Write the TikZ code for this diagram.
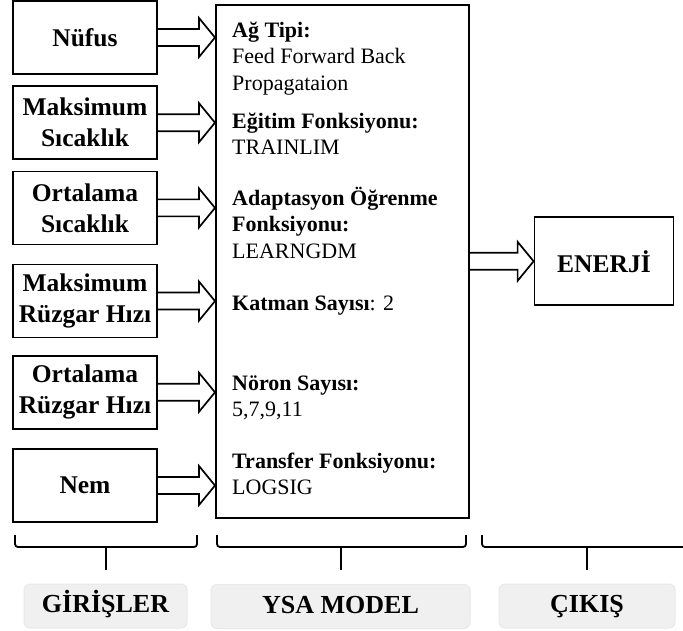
\documentclass[tikz,border=0pt]{standalone}
\usepackage{fontspec}
\setmainfont{Liberation Serif}
\usetikzlibrary{positioning, calc}

% hollow block arrow between two points on one line
\newcommand{\blockarrow}[2]{%
  \draw[blockline] ($(#1)+(0,8.5)$) -- ($(#2)+(-16,8.5)$) -- ($(#2)+(-16,19.5)$) -- (#2)
    -- ($(#2)+(-16,-19.5)$) -- ($(#2)+(-16,-8.5)$) -- ($(#1)+(0,-8.5)$);%
}

\begin{document}
\begin{tikzpicture}[
    x=1pt, y=1pt,
    inbox/.style={rectangle, draw, line width=1.7pt, minimum width=144pt, minimum height=73pt, inner sep=0pt, align=center, font=\fontsize{25.5}{31}\selectfont\bfseries},
    modelbox/.style={rectangle, draw, line width=1.6pt, minimum width=253pt, minimum height=513pt, inner sep=0pt},
    spec/.style={anchor=north west, align=left, inner sep=0pt, font=\fontsize{22}{26.7}\selectfont},
    blockline/.style={line width=1.7pt, line join=miter},
    bracket/.style={line width=1.8pt, rounded corners=3pt},
    tag/.style={rectangle, rounded corners=6pt, fill=black!6, draw=black!9, line width=1pt, minimum height=44pt, inner sep=0pt, text height=18pt, text depth=5pt, font=\fontsize{26}{31}\selectfont\bfseries},
]
\useasboundingbox (0,0) rectangle (683,630);

% inputs
\node[inbox] (in1) at (85,592.5) {Nüfus};
\node[inbox, below=10.5pt of in1] (in2) {Maksimum\\Sıcaklık};
\node[inbox, below=10.5pt of in2] (in3) {Ortalama\\Sıcaklık};
\node[inbox, below=18.5pt of in3] (in4) {Maksimum\\Rüzgar Hızı};
\node[inbox, below=16.5pt of in4] (in5) {Ortalama\\Rüzgar Hızı};
\node[inbox, below=18.5pt of in5] (in6) {Nem};

% model
\node[modelbox, anchor=north west] (model) at (215,626) {};
\node[spec] (s1) at (232,611.7) {\strut\textbf{Ağ Tipi:}\\Feed Forward Back\\Propagataion};
\node[spec] (s2) at (232,520.7) {\strut\textbf{Eğitim Fonksiyonu:}\\TRAINLIM};
\node[spec] (s3) at (232,443.7) {\strut\textbf{Adaptasyon Öğrenme}\\\textbf{Fonksiyonu:}\\LEARNGDM};
\node[spec] (s4) at (232,338.7) {\strut\textbf{Katman Sayısı}: 2};
\node[spec] (s5) at (232,258.7) {\strut\textbf{Nöron Sayısı:}\\5,7,9,11};
\node[spec] (s6) at (232,180.7) {\strut\textbf{Transfer Fonksiyonu:}\\LOGSIG};

% output
\node[inbox, minimum width=139pt, minimum height=88pt, right=64pt of model] (out) {ENERJİ};

\foreach \i in {1,...,6} {
    \coordinate (tip\i) at (model.west |- in\i.east);
    \blockarrow{in\i.east}{tip\i}
}
\coordinate (src) at (model.east |- out.west);
\blockarrow{src}{out.west}

% braces
\draw[bracket] (15,95) -- (15,83) -- (197,83) -- (197,95);
\draw[bracket] (106,83) -- (106,60);
\draw[bracket] (217,95) -- (217,83) -- (466,83) -- (466,95);
\draw[bracket] (341,83) -- (341,60);
\draw[bracket] (482,95) -- (482,83) -- (684,83);
\draw[bracket] (587,83) -- (587,60);

% captions
\node[tag, minimum width=163pt] (girisler) at (105.5,24) {GİRİŞLER};
\node[tag, minimum width=259pt] (ysamodel) at (340.5,23.5) {YSA MODEL};
\node[tag, minimum width=176pt] (cikis) at (587,24) {ÇIKIŞ};
\end{tikzpicture}
\end{document}
